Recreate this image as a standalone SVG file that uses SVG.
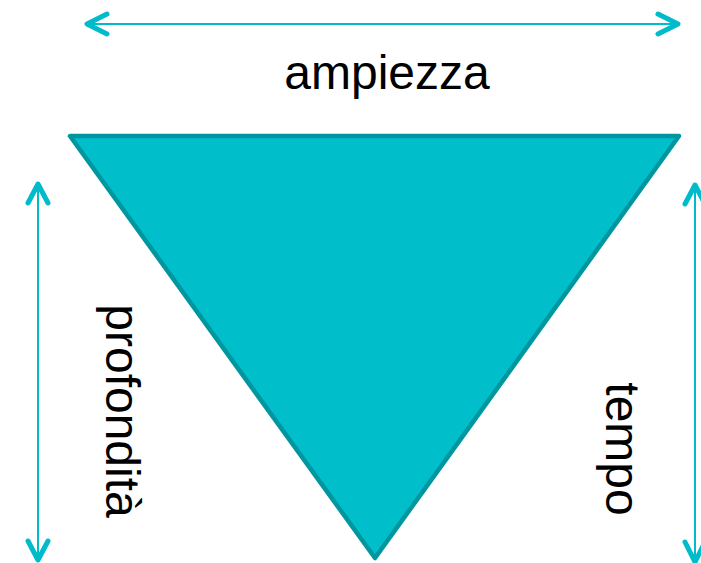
<svg xmlns="http://www.w3.org/2000/svg" width="701" height="563" viewBox="0 0 701 563">
<style>
.shaft{stroke:#00BCCB;stroke-width:2;fill:none}
.head{stroke:#00BCCB;stroke-width:5;fill:none;stroke-linecap:round;stroke-linejoin:round}
.lbl{font-family:"Liberation Sans",Arial,sans-serif;font-size:48px;fill:#000;text-anchor:middle}
</style>
<rect width="701" height="563" fill="#fff"/>
<g id="triangle">
<polygon points="70,136 679,136 375,558" fill="#00BECA" stroke="#00969F" stroke-width="4.5" stroke-linejoin="round"/>
</g>
<g id="connectors">
<line class="shaft" x1="88" y1="24" x2="677" y2="24"/>
<polyline class="head" points="107,14 87,24 107,34"/>
<polyline class="head" points="658,14 678,24 658,34"/>
<line class="shaft" x1="38" y1="185" x2="38" y2="558"/>
<polyline class="head" points="28,203 38,184 48,203"/>
<polyline class="head" points="28,541 38,560 48,541"/>
<line class="shaft" x1="695" y1="187" x2="695" y2="563"/>
<polyline class="head" points="685,204 695,185 705,204"/>
<polyline class="head" points="685,542 695,562 705,542"/>
</g>
<g id="label-ampiezza"><text class="lbl" x="387" y="89">ampiezza</text></g>
<g id="label-profondita"><text class="lbl" transform="translate(106,411) rotate(90)">profondità</text></g>
<g id="label-tempo"><text class="lbl" transform="translate(606,449) rotate(90)">tempo</text></g>
</svg>
